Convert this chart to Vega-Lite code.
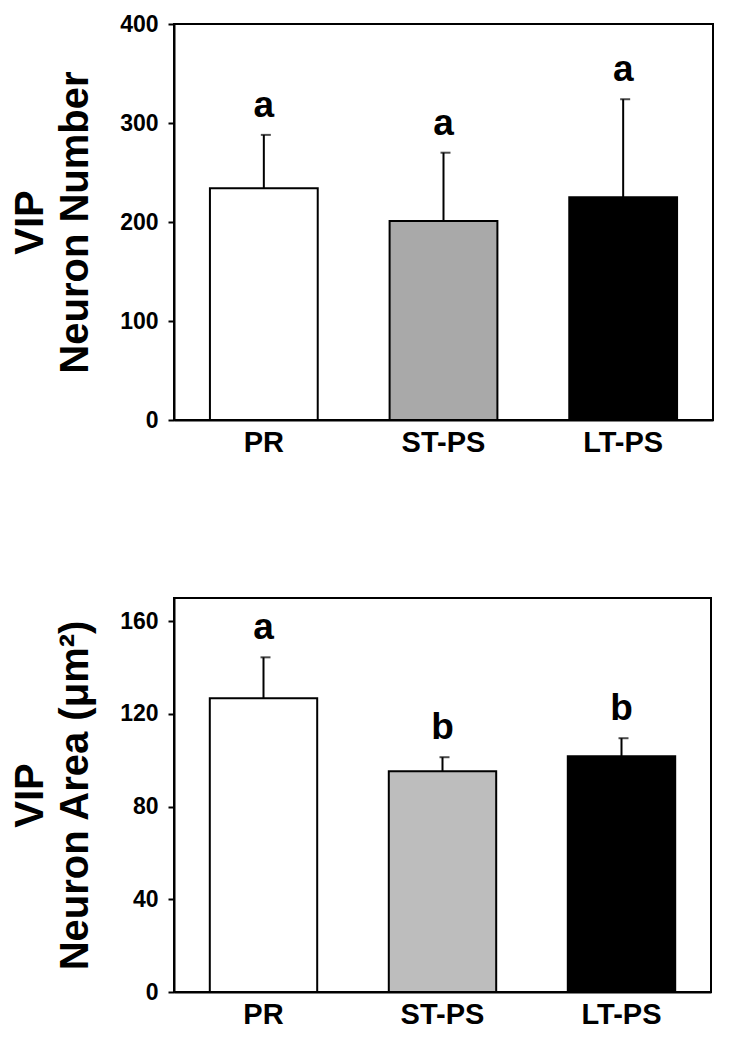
{
  "$schema": "https://vega.github.io/schema/vega-lite/v6.json",
  "padding": {"left": 9, "top": 12, "right": 5, "bottom": 5},
  "background": "white",
  "spacing": 139,
  "resolve": {"scale": {"color": "independent"}},
  "config": {
    "font": "Liberation Sans",
    "view": {"stroke": "black", "strokeWidth": 2},
    "axis": {"labelFont": "Liberation Sans", "labelFontWeight": "bold", "labelColor": "black", "titleFont": "Liberation Sans", "titleFontWeight": "bold", "titleColor": "black", "domainColor": "black", "tickColor": "black", "grid": false}
  },
  "vconcat": [
    {
      "width": 539, "height": 396,
      "data": {"values": [
        {"g": "PR", "v": 234, "e": 288, "l": "a"},
        {"g": "ST-PS", "v": 201, "e": 270, "l": "a"},
        {"g": "LT-PS", "v": 225, "e": 324, "l": "a"}
      ]},
      "encoding": {
        "x": {"field": "g", "type": "nominal", "sort": ["PR", "ST-PS", "LT-PS"], "scale": {"paddingInner": 0.4, "paddingOuter": 0.2}, "axis": {"title": null, "labelAngle": 0, "labelFontSize": 29, "ticks": false, "domainWidth": 2, "labelPadding": 8}},
        "y": {"field": "v", "type": "quantitative", "scale": {"domain": [0, 400]}, "axis": {"title": ["VIP", "Neuron Number"], "titleFontSize": 40, "titleLineHeight": 45, "titlePadding": 24, "values": [0, 100, 200, 300, 400], "labelFontSize": 23, "tickSize": 6, "tickWidth": 2, "domainWidth": 2, "labelPadding": 10}}
      },
      "layer": [
        {"mark": {"type": "rule", "stroke": "black", "strokeWidth": 2},
         "encoding": {"y2": {"field": "e"}}},
        {"mark": {"type": "bar", "stroke": "black", "strokeWidth": 2},
         "encoding": {
           "color": {"field": "g", "type": "nominal", "scale": {"domain": ["PR", "ST-PS", "LT-PS"], "range": ["white", "#a9a9a9", "black"]}, "legend": null}
         }},
        {"mark": {"type": "tick", "orient": "horizontal", "thickness": 2, "size": 10, "xOffset": 2, "color": "black"},
         "encoding": {"y": {"field": "e", "type": "quantitative", "title": ["VIP", "Neuron Number"]}}},
        {"mark": {"type": "text", "fontSize": 37, "fontWeight": "bold", "baseline": "alphabetic", "dy": -18, "font": "Liberation Sans", "color": "black"},
         "encoding": {"y": {"field": "e", "type": "quantitative", "title": ["VIP", "Neuron Number"]}, "text": {"field": "l"}}}
      ]
    },
    {
      "width": 537, "height": 394,
      "data": {"values": [
        {"g": "PR", "v": 126.7, "e": 144.4, "l": "a"},
        {"g": "ST-PS", "v": 95.3, "e": 101.3, "l": "b"},
        {"g": "LT-PS", "v": 101.7, "e": 109.5, "l": "b"}
      ]},
      "encoding": {
        "x": {"field": "g", "type": "nominal", "sort": ["PR", "ST-PS", "LT-PS"], "scale": {"paddingInner": 0.4, "paddingOuter": 0.2}, "axis": {"title": null, "labelAngle": 0, "labelFontSize": 29, "ticks": false, "domainWidth": 2, "labelPadding": 8}},
        "y": {"field": "v", "type": "quantitative", "scale": {"domain": [0, 170]}, "axis": {"title": ["VIP", "Neuron Area (μm²)"], "titleFontSize": 40, "titleLineHeight": 45, "titlePadding": 24, "values": [0, 40, 80, 120, 160], "labelFontSize": 23, "tickSize": 6, "tickWidth": 2, "domainWidth": 2, "labelPadding": 10}}
      },
      "layer": [
        {"mark": {"type": "rule", "stroke": "black", "strokeWidth": 2},
         "encoding": {"y2": {"field": "e"}}},
        {"mark": {"type": "bar", "stroke": "black", "strokeWidth": 2},
         "encoding": {
           "color": {"field": "g", "type": "nominal", "scale": {"domain": ["PR", "ST-PS", "LT-PS"], "range": ["white", "#bdbdbd", "black"]}, "legend": null}
         }},
        {"mark": {"type": "tick", "orient": "horizontal", "thickness": 2, "size": 10, "xOffset": 2, "color": "black"},
         "encoding": {"y": {"field": "e", "type": "quantitative", "title": ["VIP", "Neuron Area (μm²)"]}}},
        {"mark": {"type": "text", "fontSize": 37, "fontWeight": "bold", "baseline": "alphabetic", "dy": -18, "font": "Liberation Sans", "color": "black"},
         "encoding": {"y": {"field": "e", "type": "quantitative", "title": ["VIP", "Neuron Area (μm²)"]}, "text": {"field": "l"}}}
      ]
    }
  ]
}
